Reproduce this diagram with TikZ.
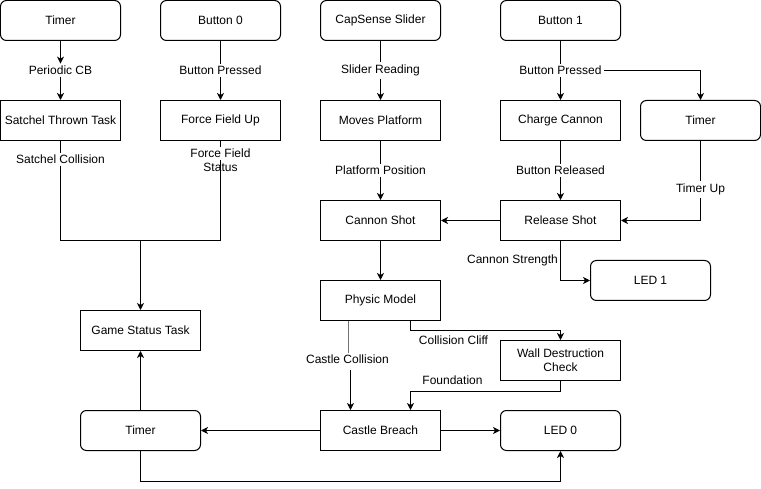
\documentclass[tikz,border=0pt]{standalone}
\usepackage{fontspec}
\setmainfont{Liberation Sans}
\usetikzlibrary{arrows.meta}
\begin{document}
\begin{tikzpicture}[x=1pt,y=-1pt,line width=1pt,
  font=\fontsize{12}{14}\selectfont,
  box/.style={draw,minimum width=120pt,minimum height=40pt,inner sep=0pt,align=center},
  rbox/.style={box,rounded corners=6pt},
  lbl/.style={inner sep=2pt,fill=white,align=center},
  arr/.style={-{Stealth[length=7pt,width=7pt,inset=2pt]}}]
\useasboundingbox (-0.5,-0.5) rectangle (760.5,488.5);
\node[rbox] (tmrA) at (60,20) {Timer};
\node[rbox] (btn0) at (220,20) {Button 0};
\node[rbox] (slider) at (380,20) {CapSense Slider};
\node[rbox] (btn1) at (560,20) {Button 1};
\node[box] (satchel) at (60,120) {Satchel Thrown Task};
\node[box] (ffup) at (220,120) {Force Field Up};
\node[box] (moves) at (380,120) {Moves Platform};
\node[box] (charge) at (560,120) {Charge Cannon};
\node[rbox] (tmrB) at (700,120) {Timer};
\node[box] (shot) at (380,220) {Cannon Shot};
\node[box] (release) at (560,220) {Release Shot};
\node[rbox] (led1) at (650,280) {LED 1};
\node[box] (physic) at (380,300) {Physic Model};
\node[box] (game) at (140,330) {Game Status Task};
\node[box] (wall) at (560,360) {Wall Destruction\\Check};
\node[box] (breach) at (380,430) {Castle Breach};
\node[rbox] (tmrC) at (140,430) {Timer};
\node[rbox] (led0) at (560,430) {LED 0};
\node[lbl] (lpcb) at (60,70) {Periodic CB};
\node[lbl] (lbp0) at (220,70) {Button Pressed};
\node[lbl] (lslr) at (380,70) {Slider Reading};
\node[lbl] (lbp1) at (560,70) {Button Pressed};
\node[lbl] (lsc) at (60,159) {Satchel Collision};
\node[lbl] (lffs) at (220,160) {Force Field\\Status};
\node[lbl] (lpp) at (380,170) {Platform Position};
\node[lbl] (lbr) at (560,170) {Button Released};
\node[lbl] (ltu) at (700,189) {Timer Up};
\node[lbl] (lcs) at (512,260) {Cannon Strength};
\node[lbl] (lcc) at (453,340) {Collision Cliff};
\node[lbl] (lcol) at (347,359) {Castle Collision};
\node[lbl] (lfnd) at (452,380) {Foundation};
\coordinate (jn) at (140,240);
\draw[arr] (tmrA) -- (lpcb);
\draw[arr] (lpcb) -- (satchel);
\draw (btn0) -- (lbp0);
\draw[arr] (lbp0) -- (ffup);
\draw (slider) -- (lslr);
\draw[arr] (lslr) -- (moves);
\draw (btn1) -- (lbp1);
\draw[arr] (lbp1) -- (charge);
\draw[arr] (lbp1.east) -| (tmrB);
\draw (satchel) -- (lsc);
\draw (lsc) |- (jn);
\draw (ffup) -- (lffs);
\draw (lffs.center) |- (jn);
\draw[arr] (jn) -- (game);
\draw (moves) -- (lpp);
\draw[arr] (lpp) -- (shot);
\draw (charge) -- (lbr);
\draw[arr] (lbr) -- (release);
\draw (tmrB) -- (ltu);
\draw[arr] (ltu) |- (release);
\draw[arr] (release) -- (shot);
\draw[arr] (release) |- (led1);
\draw[arr] (shot) -- (physic);
\draw[arr] ([xshift=30pt]physic.south) -- ++(0,10) -| (wall);
\draw[black!55,line width=1.6pt] ([xshift=-32pt]physic.south) -- ([xshift=-32pt]physic.south |- lcol.north);
\draw[arr] ([xshift=-30pt]breach.north |- lcol.south) ++(0,4) -- ([xshift=-30pt]breach.north);
\draw[arr] (wall.south) -- ++(0,10) -| ([xshift=30pt]breach.north);
\draw[arr] (breach) -- (tmrC);
\draw[arr] (breach) -- (led0);
\draw[arr] (tmrC) -- (game);
\draw[arr] (tmrC.south) -- ++(0,30) -| (led0);
\end{tikzpicture}
\end{document}
